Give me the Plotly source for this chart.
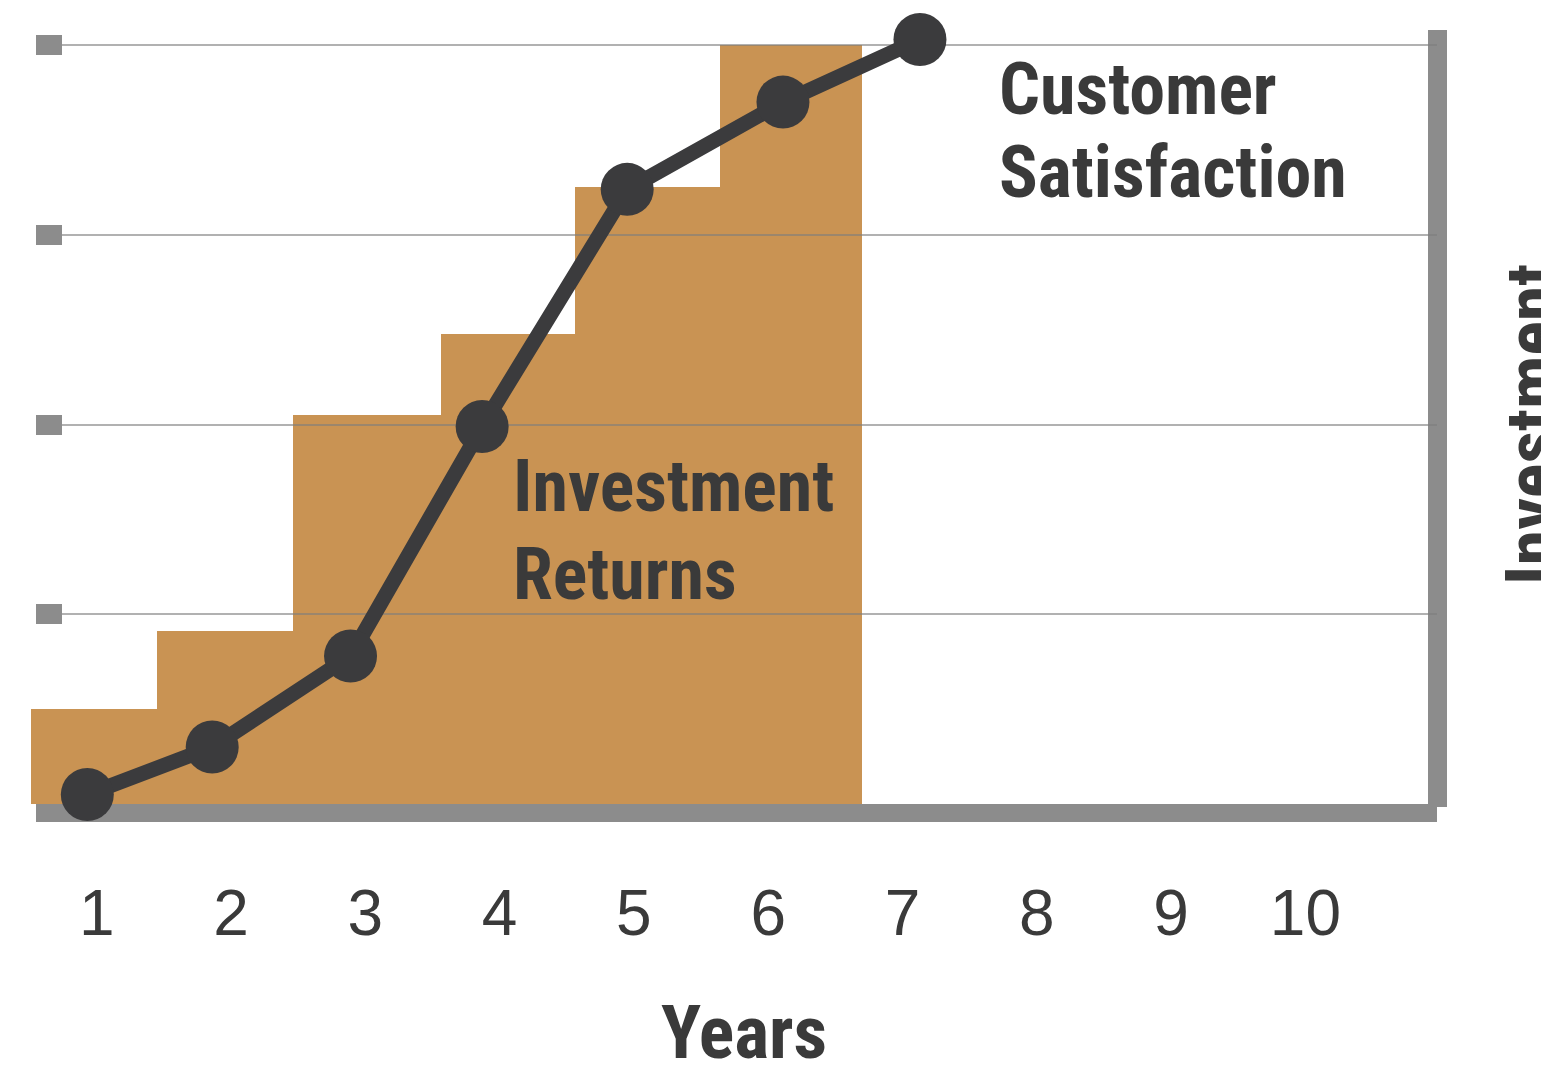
import plotly.graph_objects as go

# ---------------- data ----------------
year_ticks = [1, 2, 3, 4, 5, 6, 7, 8, 9, 10]
year_labels = ["1", "2", "3", "4", "5", "6", "7", "8", "9", "10"]

# stepped "Investment Returns" blocks: edges along the year axis and block heights
step_edges = [0.51, 1.45, 2.46, 3.56, 4.56, 5.64, 6.70]
investment_returns = [0.50, 0.91, 2.05, 2.48, 3.25, 4.00]

# "Customer Satisfaction" line
satisfaction_x = [0.93, 1.86, 2.89, 3.87, 4.95, 6.11, 7.13]
satisfaction_y = [0.05, 0.30, 0.78, 1.99, 3.24, 3.70, 4.03]

grid_levels = [1, 2, 3, 4]

# ---------------- layout geometry (screen pixels) ----------------
PAGE_MARGIN = 8                     # default <body> margin around the plot div
SCREEN_W, SCREEN_H = 1549, 1066
W, H = SCREEN_W - PAGE_MARGIN, SCREEN_H - PAGE_MARGIN
PX_YEAR1, PX_PER_YEAR = 96.7, 134.3
PX_ZERO, PX_PER_UNIT = 804.0, 189.7
FRAME_LEFT, FRAME_RIGHT, FRAME_TOP = 36, 1437, 30
RIGHT_EDGE_X, RIGHT_EDGE_BOTTOM = 1428, 807


def x_at(px):
    return 1 + (px - PX_YEAR1) / PX_PER_YEAR


def y_at(py):
    return (PX_ZERO - py) / PX_PER_UNIT


def paper_x(px):
    return (px - PAGE_MARGIN) / W


def paper_y(py):
    return 1 - (py - PAGE_MARGIN) / H


bar_x = [(a + b) / 2 for a, b in zip(step_edges[:-1], step_edges[1:])]
bar_w = [b - a for a, b in zip(step_edges[:-1], step_edges[1:])]

ORANGE = "#C99353"
DARK = "#3b3b3d"
AXIS_GRAY = "#8c8c8c"
TEXT = "#3a3a3a"
COND = "Roboto Condensed, Roboto, Liberation Sans, sans-serif"

fig = go.Figure()

fig.add_trace(go.Bar(
    x=bar_x, y=investment_returns, width=bar_w, base=0,
    marker=dict(color=ORANGE, line=dict(width=0)),
    xaxis="x", yaxis="y", showlegend=False, hoverinfo="skip",
))

fig.add_trace(go.Scatter(
    x=satisfaction_x, y=satisfaction_y, mode="lines+markers",
    line=dict(color=DARK, width=15),
    marker=dict(color=DARK, size=53),
    xaxis="x2", yaxis="y2", cliponaxis=False, showlegend=False,
))

frame_x_dom = [paper_x(FRAME_LEFT), paper_x(FRAME_RIGHT)]
frame_y_dom = [paper_y(PX_ZERO), paper_y(FRAME_TOP)]
frame_y_range = [0, y_at(FRAME_TOP)]

fig.update_layout(
    width=W, height=H, autosize=False,
    margin=dict(l=0, r=0, t=0, b=0),
    paper_bgcolor="white", plot_bgcolor="rgba(0,0,0,0)",
    showlegend=False,
    bargap=0,
    # axes for the stepped blocks; its y axis line is the right-hand frame edge
    xaxis=dict(domain=[0, paper_x(RIGHT_EDGE_X)],
               range=[x_at(PAGE_MARGIN), x_at(RIGHT_EDGE_X)],
               visible=False, fixedrange=True),
    yaxis=dict(domain=[paper_y(RIGHT_EDGE_BOTTOM), paper_y(FRAME_TOP)],
               range=[y_at(RIGHT_EDGE_BOTTOM), y_at(FRAME_TOP)],
               side="right", showline=True, linewidth=19, linecolor=AXIS_GRAY,
               showgrid=False, zeroline=False, showticklabels=False, ticks="",
               fixedrange=True),
    # framed chart area: grid, ticks, baseline, year labels
    xaxis2=dict(
        domain=frame_x_dom, anchor="y2",
        range=[x_at(FRAME_LEFT), x_at(FRAME_RIGHT)],
        showline=True, linewidth=18, linecolor=AXIS_GRAY,
        showgrid=False, zeroline=False, ticks="",
        tickmode="array", tickvals=year_ticks, ticktext=year_labels,
        tickfont=dict(family="Liberation Sans, Arial, sans-serif", size=64, color=TEXT),
        ticklabelstandoff=36,
        layer="below traces", fixedrange=True,
    ),
    yaxis2=dict(
        domain=frame_y_dom, anchor="x2", range=frame_y_range,
        showline=False, zeroline=False,
        showgrid=True, gridcolor="rgba(125,125,125,0.6)", gridwidth=2,
        tickmode="array", tickvals=grid_levels, showticklabels=False,
        ticks="inside", ticklen=26, tickwidth=20, tickcolor=AXIS_GRAY,
        layer="below traces", fixedrange=True,
    ),
)


def label(text, px, py, anchor="left", angle=0, size=72):
    fig.add_annotation(
        text=text, xref="paper", yref="paper",
        x=paper_x(px), y=paper_y(py), xanchor=anchor, yanchor="middle",
        showarrow=False, textangle=angle,
        font=dict(family=COND, size=size, color=TEXT, weight="bold"),
    )


label("Customer", 997, 89.5)
label("Satisfaction", 997, 172)
label("Investment", 511, 486)
label("Returns", 511, 574)
label("Years", 744, 1032, anchor="center", size=74)
label("Investment", 1532, 425, anchor="center", angle=-90)

fig.write_html("out.html")
